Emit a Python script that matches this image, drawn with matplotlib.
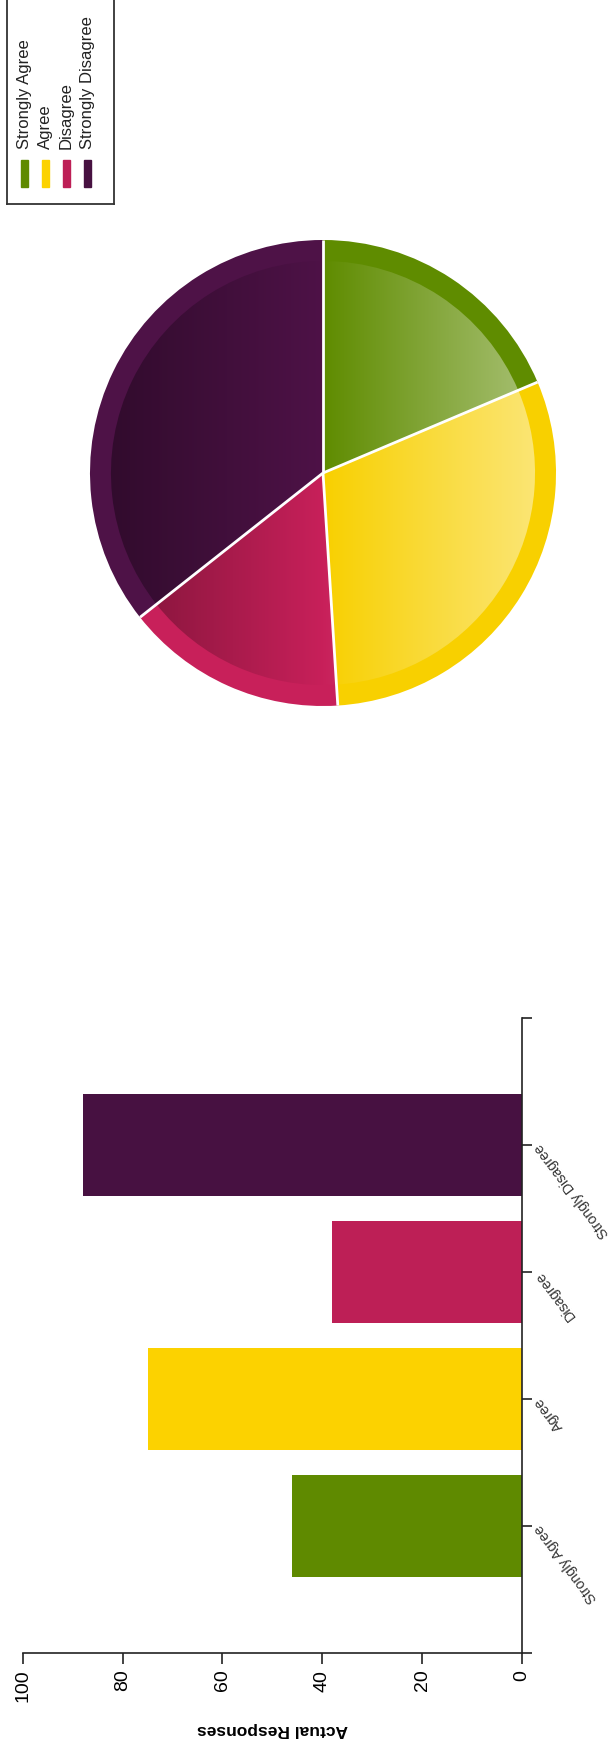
import numpy as np
import matplotlib
matplotlib.use("Agg")
import matplotlib.pyplot as plt
from matplotlib.patches import Rectangle

# data
categories = ['Strongly Agree', 'Agree', 'Disagree', 'Strongly Disagree']
responses = [46, 75, 38, 88]
bar_colors = ['#5f8a00', '#fcd200', '#bd1f56', '#471141']
rim_colors = ['#5f8c00', '#f8d000', '#c8205a', '#4e1247']
value_ticks = [0, 20, 40, 60, 80, 100]

W, H = 614, 1747
plt.rcParams['font.family'] = ['Liberation Sans', 'DejaVu Sans']
fig = plt.figure(figsize=(W / 100, H / 100), dpi=100)


def px_axes(x0, y0, x1, y1):
    # box in pixels, y measured from the top
    return fig.add_axes([x0 / W, 1 - y1 / H, (x1 - x0) / W, (y1 - y0) / H])


# ---- bar chart (whole chart is turned on its side) ----
ax = px_axes(22.7, 1018, 522, 1653)
pos = np.arange(1, len(categories) + 1)
ax.barh(pos, responses, height=0.8, color=bar_colors)
ax.set_xlim(100, 0)
ax.set_ylim(0, len(categories) + 1)
for s in ('left', 'top'):
    ax.spines[s].set_visible(False)
for s in ('right', 'bottom'):
    ax.spines[s].set_linewidth(1.2)
    ax.spines[s].set_color('#222222')

ax.set_xticks(value_ticks)
ax.set_xticklabels([str(v) for v in value_ticks])
ax.tick_params(axis='x', length=8, width=1.2, labelsize=14,
               labelrotation=90, pad=4, color='#222222')

ax.yaxis.tick_right()
ax.set_yticks(np.arange(0, len(categories) + 2))
ax.set_yticklabels([''] + categories + [''])
ax.tick_params(axis='y', length=7, width=1.2, labelsize=10.3, pad=4,
               color='#222222', labelcolor='#333333')
for lab in ax.get_yticklabels():
    lab.set_rotation(127)
    lab.set_ha('right')
    lab.set_va('center')
    lab.set_rotation_mode('anchor')

fig.text(272 / W, 1 - 1730 / H, 'Actual Responses', rotation=180,
         ha='center', va='center', fontsize=12.5, fontweight='bold')

# ---- pie ----
pax = px_axes(323 - 240, 473 - 240, 323 + 240, 473 + 240)
wedges, _ = pax.pie(responses, colors=rim_colors, startangle=90,
                    counterclock=False, radius=1.0,
                    wedgeprops=dict(linewidth=0))
inner, _ = pax.pie(responses, colors=rim_colors, startangle=90,
                   counterclock=False, radius=0.91,
                   wedgeprops=dict(linewidth=0))

xs = np.linspace(-1, 1, 300)


def shade(col):
    rgb = np.array(matplotlib.colors.to_rgb(col))
    out = []
    for t in xs:
        if t < 0:
            out.append(rgb * (1 + 0.4 * t))
        else:
            out.append(rgb + (1 - rgb) * 0.5 * t)
    return np.array(out)[None, :, :]


for w, col in zip(inner, rim_colors):
    im = pax.imshow(shade(col), extent=(-1, 1, -1, 1), aspect='auto',
                    interpolation='bilinear', zorder=2)
    im.set_clip_path(w)

for w in wedges:
    a = np.deg2rad(w.theta1)
    pax.plot([0, np.cos(a)], [0, np.sin(a)], color='white', lw=2,
             zorder=5, solid_capstyle='butt')

pax.set_xlim(-1.03, 1.03)
pax.set_ylim(-1.03, 1.03)
pax.set_aspect('equal')
pax.axis('off')

# ---- legend (turned as well) ----
lax = px_axes(7, -10, 114, 204)
lax.set_xlim(7, 114)
lax.set_ylim(204, -10)
lax.set_xticks([])
lax.set_yticks([])
for s in lax.spines.values():
    s.set_color('#333333')
    s.set_linewidth(1.3)
for i, (cat, col) in enumerate(zip(categories, bar_colors)):
    xc = 25 + i * 20.7
    lax.add_patch(Rectangle((xc - 3.5, 160), 7, 27, color=col))
    lax.text(xc, 149, cat, rotation=90, ha='left', va='center',
             rotation_mode='anchor', fontsize=12, color='#222222')

fig.savefig('out.png', dpi=100)
